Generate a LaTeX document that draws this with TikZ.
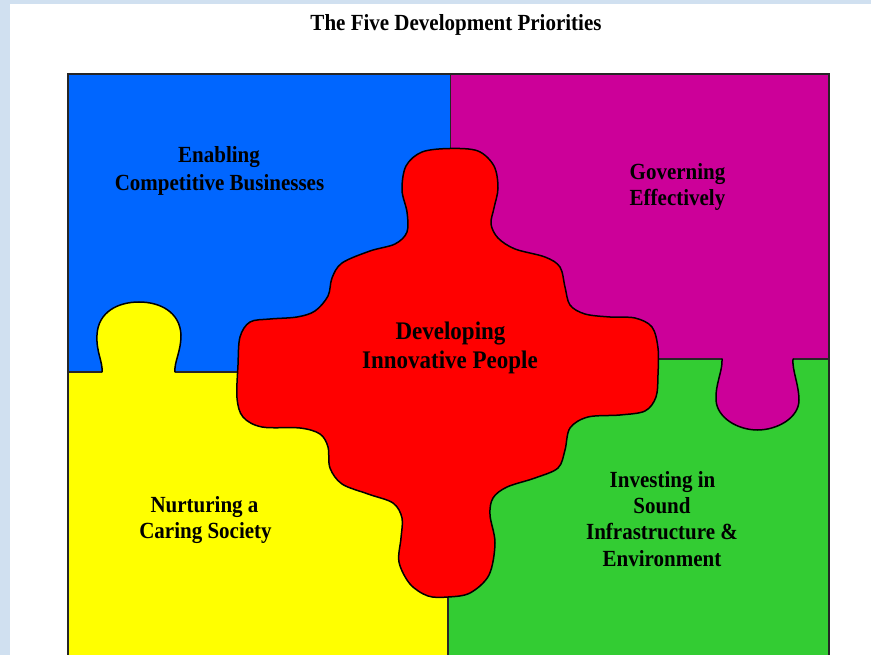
\documentclass[tikz,border=0pt]{standalone}
\usepackage{fontspec}
\usepackage{graphicx}
\setmainfont{Liberation Serif}
\definecolor{bgblue}{RGB}{208,224,240}
\definecolor{pblue}{RGB}{0,102,255}
\definecolor{pmag}{RGB}{204,0,153}
\definecolor{pred}{RGB}{255,0,0}
\definecolor{pyel}{RGB}{255,255,0}
\definecolor{pgreen}{RGB}{51,204,51}
\newcommand{\tallt}[1]{\scalebox{1}[1.1]{#1}}
\begin{document}
\begin{tikzpicture}[x=1pt,y=-1pt,
  piece/.style={draw=black!85,line width=1.1pt},
  edge/.style={draw=black,line width=1.5pt,line join=round,line cap=round},
  lbl/.style={font=\fontsize{21}{26}\selectfont\bfseries,anchor=base,inner sep=0pt,text=black},
  biglbl/.style={lbl,font=\fontsize{23}{28}\selectfont\bfseries}]
\useasboundingbox (0,0) rectangle (871,655);
\clip (0,0) rectangle (871,655);
\fill[bgblue] (0,0) rectangle (871,655);
\fill[white] (10,4) rectangle (871,655);
% quadrants
\path[piece,fill=pblue] (68,74) rectangle (450.5,372);
\path[piece,fill=pmag] (450.5,74) rectangle (829,359);
\path[piece,fill=pyel] (68,372) rectangle (448,665);
\path[piece,fill=pgreen] (448,359) rectangle (829,665);
% yellow knob
\fill[pyel] (102,372) .. controls (103,362) and (96,352) .. (97,335)
  .. controls (98,312) and (118,302) .. (139,302)
  .. controls (160,302) and (180,312) .. (181,335)
  .. controls (181,352) and (174,362) .. (175,372) -- (175,374) -- (102,374) -- cycle;
\draw[edge] (102,372) .. controls (103,362) and (96,352) .. (97,335)
  .. controls (98,312) and (118,302) .. (139,302)
  .. controls (160,302) and (180,312) .. (181,335)
  .. controls (181,352) and (174,362) .. (175,372);
% magenta knob
\fill[pmag] (722,359) .. controls (723,370) and (715,385) .. (716,400)
  .. controls (717,418) and (738,430) .. (757.5,430)
  .. controls (777,430) and (799,418) .. (799,400)
  .. controls (799,385) and (792,370) .. (793,359) -- (793,357) -- (722,357) -- cycle;
\draw[edge] (722,359) .. controls (723,370) and (715,385) .. (716,400)
  .. controls (717,418) and (738,430) .. (757.5,430)
  .. controls (777,430) and (799,418) .. (799,400)
  .. controls (799,385) and (792,370) .. (793,359);
% red centre piece
\path[edge,fill=pred] plot[smooth cycle,tension=0.55] coordinates {
 (450,148.5) (478,151) (494,166) (498,188) (494,208) (491,224) (498,238)
 (515,249) (545,257) (560,267) (565,287) (570,305) (585,314) (610,317)
 (635,318) (652,327) (658,348) (658,375) (656,397) (645,411) (620,415)
 (588,417) (570,428) (565,450) (558,468) (535,478) (507,487) (493,498)
 (490,515) (495,543) (489,575) (470,593) (448,597) (428,596) (410,584)
 (399,562) (401,538) (402,518) (393,503) (368,494) (342,484) (330,468)
 (328,447) (320,434) (300,428) (262,427) (243,417) (237,398) (238,365)
 (240,337) (250,322) (270,319) (297,317) (315,311) (328,296) (332,278)
 (342,263) (370,251) (395,244) (407,232) (407,212) (402,190) (406,166)
 (422,152)};
% texts
\node[lbl] (title) at (456,31) {\tallt{The Five Development Priorities}};
\node[lbl] (en1) at (219,163) {\tallt{Enabling}};
\node[lbl] (en2) at (219.5,190.5) {\tallt{Competitive Businesses}};
\node[lbl] (gov1) at (677.5,180) {\tallt{Governing}};
\node[lbl] (gov2) at (677.5,206) {\tallt{Effectively}};
\node[biglbl] (dev1) at (450.5,340) {\tallt{Developing}};
\node[biglbl] (dev2) at (450,368) {\tallt{Innovative People}};
\node[lbl] (nur1) at (204.5,512) {\tallt{Nurturing a}};
\node[lbl] (nur2) at (205.5,538) {\tallt{Caring Society}};
\node[lbl] (inv1) at (662.5,487) {\tallt{Investing in}};
\node[lbl] (inv2) at (662,513) {\tallt{Sound}};
\node[lbl] (inv3) at (662,539) {\tallt{Infrastructure \&}};
\node[lbl] (inv4) at (662,566) {\tallt{Environment}};
\end{tikzpicture}
\end{document}
